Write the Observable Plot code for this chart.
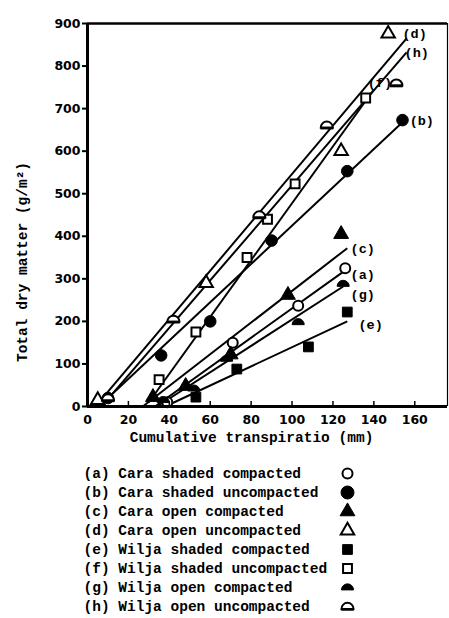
<!DOCTYPE html>
<html>
<head>
<meta charset="utf-8">
<script src="https://cdn.jsdelivr.net/npm/d3@7"></script>
<script src="https://cdn.jsdelivr.net/npm/@observablehq/plot@0.6"></script>
<style>
  html, body { margin: 0; padding: 0; background: #fff; }
  svg { display: block; }
</style>
</head>
<body>
<div id="chart"></div>
<script>
// ---- data ----
const seriesKeys = ["a", "b", "c", "d", "e", "f", "g", "h"];
const seriesNames = [
  "(a) Cara shaded compacted",
  "(b) Cara shaded uncompacted",
  "(c) Cara open compacted",
  "(d) Cara open uncompacted",
  "(e) Wilja shaded compacted",
  "(f) Wilja shaded uncompacted",
  "(g) Wilja open compacted",
  "(h) Wilja open uncompacted"
];
// observed points (cumulative transpiration mm, total dry matter g/m2)
const aX = [39, 71, 103, 126];           const aY = [10, 150, 237, 325];
const bX = [10, 36, 60, 90, 127, 154];   const bY = [20, 120, 200, 390, 553, 673];
const cX = [32, 48, 70, 98, 124];        const cY = [22, 48, 122, 262, 405];
const dX = [5, 58, 124, 147];            const dY = [15, 290, 600, 876];
const eX = [53, 73, 108, 127];           const eY = [22, 88, 140, 222];
const fX = [35, 53, 78, 88, 101.5, 136]; const fY = [63, 175, 350, 440, 523, 725];
const gX = [37, 52, 68, 103, 125];       const gY = [15, 42, 112, 198, 288];
const hX = [10, 42, 84, 117, 151];       const hY = [20, 205, 450, 661, 760];
// fitted lines (start and end)
const lineX1 = [33, 10, 27, 6, 38, 30, 34, 9];
const lineY1 = [0, 20, 0, 12, 0, 10, 0, 12];
const lineX2 = [126, 154, 127, 156, 127, 140, 125, 156];
const lineY2 = [320, 668, 372, 865, 200, 745, 282, 832];
// curve labels
const curveLabels = ["(a)", "(b)", "(c)", "(d)", "(e)", "(f)", "(g)", "(h)"];
const curveLabelX = [128.6, 157.5, 128.6, 154, 132.5, 137, 128.6, 155];
const curveLabelY = [309, 672, 371, 876, 193, 760, 262, 832];
// axes
const xTicks = [0, 20, 40, 60, 80, 100, 120, 140, 160];
const yTicks = [0, 100, 200, 300, 400, 500, 600, 700, 800, 900];
const xTitle = "Cumulative transpiratio (mm)";
const yTitle = "Total dry matter (g/m²)";

// ---- symbols ----
const domeSym = { draw(ctx, size) {
  const r = Math.sqrt(size / Math.PI) * 1.1;
  const b = r * 0.4;
  ctx.moveTo(-r, b);
  ctx.arc(0, b, r, Math.PI, 2 * Math.PI);
  ctx.closePath();
}};
const barSym = { draw(ctx, size) {
  const r = Math.sqrt(size / Math.PI) * 1.1;
  ctx.rect(-r * 1.05, r * 0.25, r * 2.1, r * 0.45);
}};
const styleOf = {
  a: {symbol: "circle", fill: "white", r: 5},
  b: {symbol: "circle", fill: "black", r: 5.8},
  c: {symbol: "triangle", fill: "black", r: 5.5},
  d: {symbol: "triangle", fill: "white", r: 5},
  e: {symbol: "square", fill: "black", r: 5.5},
  f: {symbol: "square", fill: "white", r: 5},
  g: {symbol: domeSym, fill: "black", r: 5.5},
  h: {symbol: domeSym, fill: "white", r: 5.5}
};
const pointsX = {a: aX, b: bX, c: cX, d: dX, e: eX, f: fX, g: gX, h: hX};
const pointsY = {a: aY, b: bY, c: cY, d: dY, e: eY, f: fY, g: gY, h: hY};

const points = seriesKeys.flatMap(k => pointsX[k].map((x, i) => ({key: k, x, y: pointsY[k][i]})));
const lines = seriesKeys.map((k, i) => ({key: k, x1: lineX1[i], y1: lineY1[i], x2: lineX2[i], y2: lineY2[i]}));
const labels = curveLabels.map((t, i) => ({t, x: curveLabelX[i], y: curveLabelY[i]}));

const dotMarks = seriesKeys.map(k => {
  const s = styleOf[k];
  return Plot.dot(points.filter(p => p.key === k), {
    x: "x", y: "y", symbol: s.symbol, r: s.r, fill: s.fill,
    stroke: "black", strokeWidth: s.fill === "white" ? 2 : 1
  });
});
const hBars = Plot.dot(points.filter(p => p.key === "h"), {
  x: "x", y: "y", symbol: barSym, r: 5.5, fill: "black", stroke: "none"
});

const mono = "'Liberation Mono', 'DejaVu Sans Mono', monospace";

const main = Plot.plot({
  width: 449,
  height: 450,
  marginLeft: 87,
  marginRight: 2,
  marginTop: 23,
  marginBottom: 44,
  style: {fontFamily: mono, fontWeight: "bold", color: "black", background: "white"},
  x: {domain: [0, 176]},
  y: {domain: [0, 900]},
  marks: [
    Plot.link(lines, {x1: "x1", y1: "y1", x2: "x2", y2: "y2", stroke: "black", strokeWidth: 2}),
    ...dotMarks,
    hBars,
    Plot.text(labels, {x: "x", y: "y", text: "t", textAnchor: "start", fontSize: 13.5,
      fontFamily: mono, fontWeight: "bold", fill: "black"}),
    Plot.ruleX([0], {stroke: "black", strokeWidth: 3}),
    Plot.ruleY([0], {stroke: "black", strokeWidth: 3}),
    Plot.ruleY([900], {stroke: "black", strokeWidth: 2.5}),
    Plot.ruleX([176], {stroke: "black", strokeWidth: 1.2}),
    Plot.ruleX(xTicks.slice(1), {x: d => d, y1: 0, y2: 12, stroke: "black", strokeWidth: 1.5}),
    Plot.axisY(yTicks, {tickSize: 5, tickPadding: 2, fontSize: 12.5, fontWeight: "bold",
      fontFamily: "'DejaVu Sans', sans-serif", strokeWidth: 2, label: null}),
    Plot.axisX(xTicks, {tickSize: 0, tickPadding: 9, fontSize: 12.5, fontWeight: "bold",
      fontFamily: "'DejaVu Sans', sans-serif", label: null}),
    Plot.text([xTitle], {frameAnchor: "bottom", dx: -16, dy: 31, text: d => d, fontSize: 14.5,
      fontFamily: mono, fontWeight: "bold", lineAnchor: "middle", textAnchor: "middle"}),
    Plot.text([yTitle], {frameAnchor: "left", dx: -65, dy: 47, rotate: -90, text: d => d,
      fontSize: 14.5, fontFamily: mono, fontWeight: "bold", lineAnchor: "middle", textAnchor: "middle"})
  ]
});

// ---- legend ----
const legendRows = seriesKeys.map((k, i) => ({key: k, name: seriesNames[i]}));
const legendDots = seriesKeys.map(k => {
  const s = styleOf[k];
  return Plot.dot(legendRows.filter(d => d.key === k), {
    x: () => 1, y: "name", symbol: s.symbol, r: s.r + (k === "b" ? 0.7 : 0), fill: s.fill,
    stroke: "black", strokeWidth: s.fill === "white" ? 2 : 1
  });
});
const legend = Plot.plot({
  width: 449,
  height: 168,
  margin: 0,
  style: {background: "white"},
  x: {domain: [0, 1], range: [83, 347], axis: null},
  y: {type: "point", domain: seriesNames, range: [23, 156], padding: 0, axis: null},
  marks: [
    Plot.text(legendRows, {x: () => 0, y: "name", text: "name", textAnchor: "start",
      fontSize: 14.5, fontFamily: mono, fontWeight: "bold", fill: "black"}),
    ...legendDots,
    Plot.dot(legendRows.filter(d => d.key === "h"), {x: () => 1, y: "name", symbol: barSym,
      r: 5.5, fill: "black", stroke: "none"})
  ]
});

const root = document.getElementById("chart");
root.appendChild(main);
root.appendChild(legend);
</script>
</body>
</html>
